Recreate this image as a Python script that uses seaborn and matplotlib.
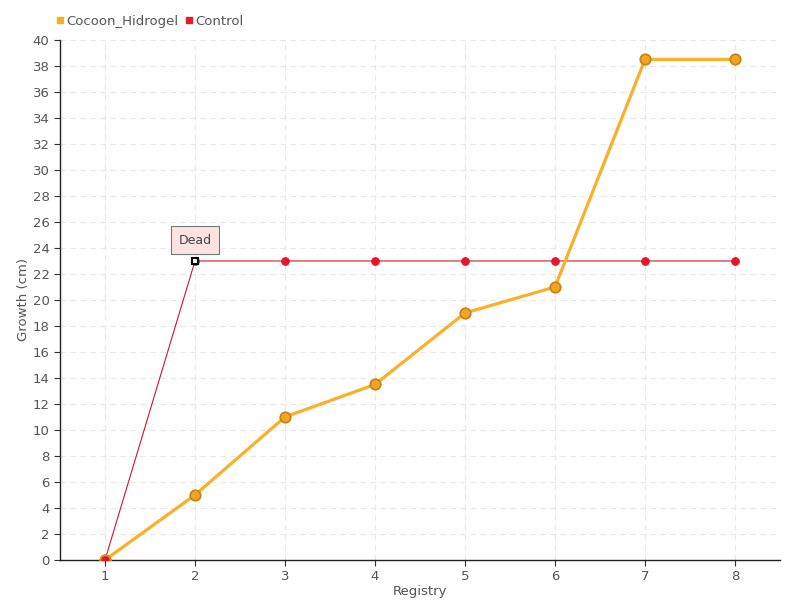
import pandas as pd
import seaborn as sns
import matplotlib.pyplot as plt

registry = [1, 2, 3, 4, 5, 6, 7, 8]
cocoon_growth = [0, 5, 11, 13.5, 19, 21, 38.5, 38.5]
control_growth = [0, 23, 23, 23, 23, 23, 23, 23]
y_ticks = list(range(0, 41, 2))

df = pd.DataFrame({'Registry': registry,
                   'Cocoon_Hidrogel': cocoon_growth,
                   'Control': control_growth})

sns.set_style('white')
plt.rcParams['font.family'] = ['DejaVu Sans']
text_color = '#555555'

fig = plt.figure(figsize=(8, 6), dpi=100)
ax = fig.add_axes([0.075, 0.0667, 0.9, 0.8667])

ax.grid(True, color='#e8e8e8', linestyle=(0, (5, 4)), linewidth=0.8)
ax.set_axisbelow(True)

# control series
sns.lineplot(data=df, x='Registry', y='Control', ax=ax, color='#d01630',
             linewidth=0.8, marker='o', markersize=5.5,
             markerfacecolor='#e3172b', markeredgecolor='#e3172b', zorder=3)
# dead point highlight
ax.plot(df['Registry'][1:2], df['Control'][1:2], marker='s', markersize=5,
        markerfacecolor='white', markeredgecolor='black', markeredgewidth=1.5,
        linestyle='none', zorder=6)

# cocoon series
sns.lineplot(data=df, x='Registry', y='Cocoon_Hidrogel', ax=ax, color='#f9b02a',
             linewidth=2.3, marker='o', markersize=7.5,
             markerfacecolor='#f5a524', markeredgecolor='#c98412',
             markeredgewidth=1.3, zorder=4)
# first control point sits on top
ax.plot(df['Registry'][:1], df['Control'][:1], marker='o', markersize=7.5,
        markerfacecolor='#e3172b', markeredgecolor='#d9901a',
        markeredgewidth=1.3, linestyle='none', zorder=5)

ax.annotate('Dead', xy=(2, 23), xytext=(2, 24.6), ha='center', va='center',
            fontsize=9, color='#444444', zorder=7,
            bbox=dict(boxstyle='square,pad=0.6', facecolor='#fde3e3',
                      edgecolor='#777777', linewidth=0.8))

ax.set_xlim(0.5, 8.5)
ax.set_ylim(0, 40)
ax.set_xticks(registry)
ax.set_yticks(y_ticks)
ax.tick_params(axis='both', labelsize=9.5, colors=text_color, length=4,
               direction='out', left=True, bottom=True)
ax.tick_params(axis='both', color='#333333')
for side in ['top', 'right']:
    ax.spines[side].set_visible(False)
for side in ['left', 'bottom']:
    ax.spines[side].set_color('#222222')
    ax.spines[side].set_linewidth(1)

ax.set_xlabel('Registry', fontsize=9.5, color=text_color, labelpad=1)
ax.set_ylabel('Growth (cm)', fontsize=9.5, color=text_color, labelpad=2)

handles = [plt.Line2D([], [], marker='s', linestyle='none', markersize=5,
                      color='#f5b021'),
           plt.Line2D([], [], marker='s', linestyle='none', markersize=5,
                      color='#e8172b')]
fig.legend(handles, ['Cocoon_Hidrogel', 'Control'], loc='upper left',
           bbox_to_anchor=(0.053, 0.995), ncol=2, frameon=False,
           fontsize=9.5, handletextpad=0.1, columnspacing=0.4,
           handlelength=0.8, labelcolor=text_color)

fig.savefig('out.png', dpi=100)
